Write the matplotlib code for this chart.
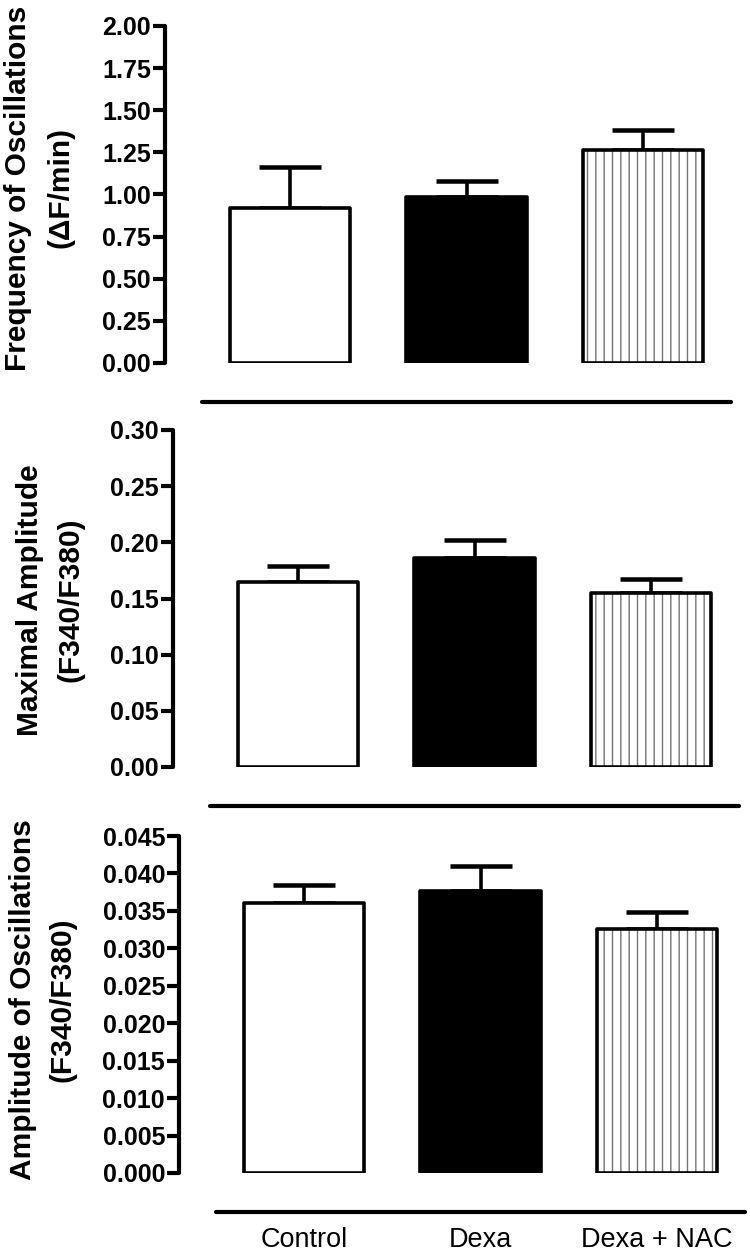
import matplotlib
matplotlib.use("Agg")
import matplotlib.pyplot as plt
import numpy as np

plt.rcParams['font.family'] = ['Liberation Sans', 'DejaVu Sans']
plt.rcParams['hatch.linewidth'] = 1.0

categories = ["Control", "Dexa", "Dexa + NAC"]

freq_mean = [0.92, 0.985, 1.265]
freq_sem = [0.245, 0.095, 0.12]
maxamp_mean = [0.165, 0.186, 0.155]
maxamp_sem = [0.014, 0.016, 0.012]
oscamp_mean = [0.0360, 0.0376, 0.0326]
oscamp_sem = [0.0025, 0.0034, 0.0022]

ylabel_l1 = ["Frequency of Oscillations", "Maximal Amplitude", "Amplitude of Oscillations"]
ylabel_l2 = ["(\u0394F/min)", "(F340/F380)", "(F340/F380)"]
yticks = [np.arange(0, 2.001, 0.25), np.arange(0, 0.3001, 0.05), np.arange(0, 0.04501, 0.005)]
ytickfmt = ["{:.2f}", "{:.2f}", "{:.3f}"]
ylims = [2.0, 0.30, 0.045]

W, H = 750, 1255
fig = plt.figure(figsize=(W / 100, H / 100), dpi=100)

# layout in pixels
boxes = [(26, 363), (430, 767), (836, 1173)]
shifts = [0, 8, 14]
label_x1 = [18, 30, 23]
label_x2 = [61, 71, 62]
label_yc = [188, 600, 1000]
unit = 176.5
left0, right0, center0 = 165, 733, 290

lw = 2.6
data = [(freq_mean, freq_sem), (maxamp_mean, maxamp_sem), (oscamp_mean, oscamp_sem)]

for i, ((top, bot), (m, s)) in enumerate(zip(boxes, data)):
    left_px = left0 + shifts[i]
    right_px = right0 + shifts[i]
    x0 = -(center0 - left0) / unit
    x1 = x0 + (right_px - left_px) / unit
    ax = fig.add_axes([left_px / W, 1 - bot / H, (right_px - left_px) / W, (bot - top) / H])
    x = np.arange(len(categories))
    width = 0.68
    ax.bar(x[2], m[2], width, color="white", edgecolor="0.45", linewidth=0, hatch="||", zorder=2)
    ax.bar(x[:2], m[:2], width, color=["white", "black"], edgecolor="black", linewidth=lw, zorder=3,
           joinstyle="round")
    ax.bar(x[2], m[2], width, fill=False, edgecolor="black", linewidth=lw, zorder=3, joinstyle="round")
    ax.errorbar(x, m, yerr=[np.zeros(3), s], fmt="none", ecolor="black", elinewidth=lw,
                capsize=22, capthick=lw * 1.25, zorder=1)
    ax.set_xlim(x0, x1)
    ax.set_ylim(0, ylims[i])
    ax.spines['top'].set_visible(False)
    ax.spines['right'].set_visible(False)
    ax.spines['left'].set_linewidth(3)
    ax.spines['left'].set_bounds(0, ylims[i])
    ax.spines['left'].set_capstyle("round")
    ax.spines['bottom'].set_linewidth(3)
    ax.spines['bottom'].set_position(('outward', 28))
    ax.spines['bottom'].set_bounds(-0.5, 2.5)
    ax.spines['bottom'].set_capstyle("round")
    ax.set_yticks(yticks[i])
    ax.set_yticklabels([ytickfmt[i].format(v) for v in yticks[i]], fontsize=18, fontweight="bold")
    ax.tick_params(axis='y', length=8.5, width=3, pad=1.5)
    if i == 2:
        ax.set_xticks(x)
        ax.set_xticklabels(categories, fontsize=19.5)
        ax.tick_params(axis='x', length=0, pad=11)
    else:
        ax.set_xticks([])
    ax.patch.set_visible(False)
    yc = 1 - label_yc[i] / H
    fig.text(label_x1[i] / W, yc, ylabel_l1[i], rotation=90, ha="center", va="center",
             fontsize=21.5, fontweight="bold")
    fig.text(label_x2[i] / W, yc, ylabel_l2[i], rotation=90, ha="center", va="center",
             fontsize=21.5, fontweight="bold")

fig.savefig("out.png", dpi=100)
